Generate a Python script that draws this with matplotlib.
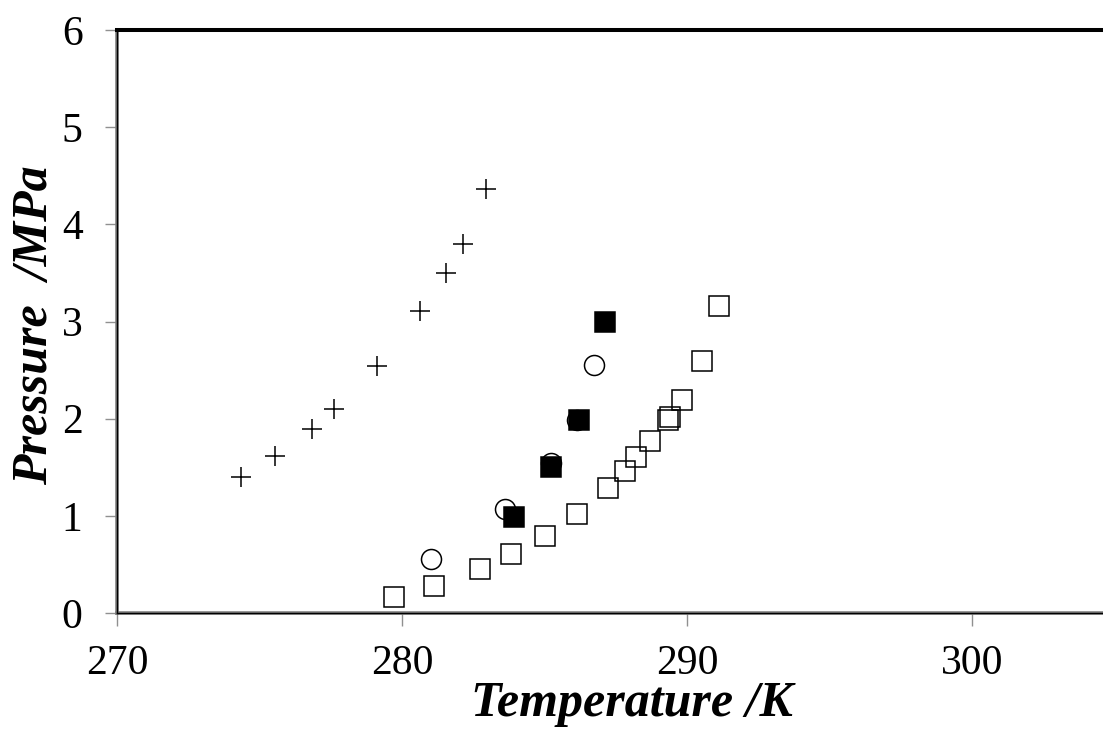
import matplotlib.pyplot as plt

# hydrate dissociation data
t_plus = [274.33, 275.54, 276.83, 277.62, 279.13, 280.63, 281.53, 282.13, 282.94]
p_plus = [1.40, 1.62, 1.89, 2.10, 2.54, 3.11, 3.50, 3.80, 4.36]

t_open_sq = [279.73, 281.13, 282.74, 283.83, 285.03, 286.13, 287.23, 287.83,
             288.22, 288.72, 289.33, 289.42, 289.83, 290.53, 291.13]
p_open_sq = [0.165, 0.275, 0.456, 0.604, 0.795, 1.015, 1.286, 1.464,
             1.605, 1.766, 1.986, 2.016, 2.188, 2.590, 3.156]

t_circle = [281.03, 283.62, 285.23, 286.13, 286.73]
p_circle = [0.556, 1.067, 1.543, 1.983, 2.548]

t_filled = [283.93, 285.23, 286.22, 287.13]
p_filled = [0.99, 1.50, 1.99, 2.99]

plt.rcParams['font.family'] = ['Liberation Serif', 'DejaVu Serif']

fig = plt.figure(figsize=(11.03, 7.29), dpi=100)
ax = fig.add_axes([117.3 / 1103, 1 - 613 / 729, 1 - 117.3 / 1103, 583 / 729])

ms = 14.4
ax.plot(t_plus, p_plus, linestyle='none', marker='+', ms=ms, mew=1.1, color='black')
ax.plot(t_open_sq, p_open_sq, linestyle='none', marker='s', ms=ms, mew=1.1,
        mfc='none', mec='black')
ax.plot(t_circle, p_circle, linestyle='none', marker='o', ms=ms, mew=1.1,
        mfc='none', mec='black')
ax.plot(t_filled, p_filled, linestyle='none', marker='s', ms=ms, mew=1.1,
        mfc='black', mec='black')

ax.set_xlim(270, 270 + (1103 - 117.3) / 28.48)
ax.set_ylim(0, 6)
ax.set_xticks([270, 280, 290, 300])
ax.set_yticks([0, 1, 2, 3, 4, 5, 6])

ax.spines['right'].set_visible(False)
ax.spines['top'].set_color('black')
ax.spines['top'].set_linewidth(2.9)
for side in ['left', 'bottom']:
    ax.spines[side].set_color('#808080')
    ax.spines[side].set_linewidth(2.6)
ax.axvline(270, color='black', lw=1.0, clip_on=False, zorder=3)
ax.axhline(0, color='black', lw=1.0, clip_on=False, zorder=3)

ax.tick_params(direction='out', length=9, width=1, color='#909090',
               labelsize=30, pad=14)
ax.tick_params(axis='y', pad=16)

ax.set_xlabel('Temperature /K', fontsize=36, fontweight='bold', style='italic',
              va='baseline')
ax.set_ylabel('Pressure  /MPa', fontsize=36, fontweight='bold', style='italic',
              va='baseline')
ax.xaxis.set_label_coords(0.522, -0.176)
ax.yaxis.set_label_coords(-0.0713, 0.494)

fig.savefig('out.png', dpi=100)
